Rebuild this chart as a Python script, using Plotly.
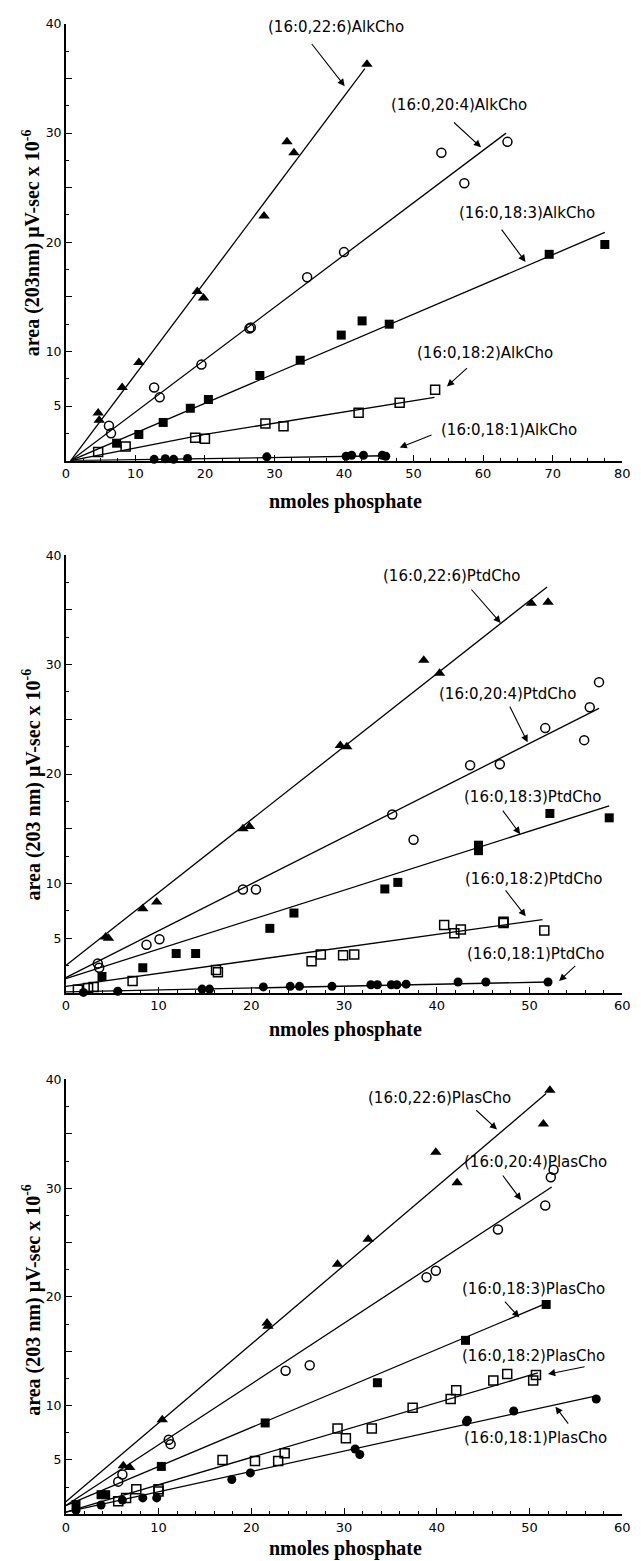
import plotly.graph_objects as go

# ---------------- DATA ----------------
# Panel 1: AlkCho
alk_226_x = [4.65, 4.8, 8.1, 10.5, 18.9, 19.8, 28.5, 31.8, 32.8, 43.3]
alk_226_y = [4.36, 3.7, 6.7, 9.0, 15.5, 14.9, 22.4, 29.2, 28.2, 36.3]
alk_204_x = [6.2, 6.5, 12.7, 13.5, 19.5, 26.4, 26.6, 34.7, 40.0, 54.0, 57.3, 63.5]
alk_204_y = [3.2, 2.5, 6.7, 5.8, 8.8, 12.1, 12.2, 16.8, 19.1, 28.2, 25.4, 29.2]
alk_183_x = [7.3, 10.5, 14.0, 17.9, 20.5, 27.9, 33.7, 39.6, 42.6, 46.5, 69.5, 77.5]
alk_183_y = [1.6, 2.4, 3.5, 4.8, 5.6, 7.8, 9.2, 11.5, 12.8, 12.5, 18.9, 19.8]
alk_182_x = [4.65, 8.6, 18.6, 20.0, 28.7, 31.3, 42.1, 48.0, 53.1]
alk_182_y = [0.8, 1.3, 2.1, 2.0, 3.4, 3.15, 4.4, 5.3, 6.5]
alk_181_x = [12.7, 14.3, 15.5, 17.5, 28.9, 40.3, 41.1, 42.8, 45.5, 46.0]
alk_181_y = [0.12, 0.18, 0.12, 0.2, 0.35, 0.4, 0.5, 0.5, 0.5, 0.4]
alk_fit_226_x = [0.7, 43.0]
alk_fit_226_y = [0.0, 35.9]
alk_fit_204_x = [0.7, 63.3]
alk_fit_204_y = [0.0, 30.0]
alk_fit_183_x = [0.7, 77.5]
alk_fit_183_y = [0.0, 20.9]
alk_fit_182_x = [0.7, 20.0, 53.0]
alk_fit_182_y = [0.0, 2.4, 5.8]
alk_fit_181_x = [0.7, 46.0]
alk_fit_181_y = [0.0, 0.45]

# Panel 2: PtdCho
ptd_226_x = [4.3, 4.6, 8.3, 9.8, 19.1, 19.8, 29.6, 30.3, 38.6, 40.3, 50.2, 52.0]
ptd_226_y = [5.1, 5.0, 7.7, 8.3, 15.0, 15.2, 22.6, 22.5, 30.4, 29.2, 35.6, 35.7]
ptd_204_x = [3.45, 3.6, 8.7, 10.1, 19.1, 20.5, 35.2, 37.5, 43.6, 46.8, 51.7, 55.9, 56.5, 57.5]
ptd_204_y = [2.7, 2.3, 4.4, 4.9, 9.45, 9.45, 16.3, 14.0, 20.8, 20.9, 24.2, 23.1, 26.1, 28.4]
ptd_183_x = [3.9, 8.3, 11.9, 14.0, 22.0, 24.6, 34.4, 35.8, 44.5, 44.5, 52.2, 58.6]
ptd_183_y = [1.5, 2.3, 3.6, 3.6, 5.9, 7.3, 9.5, 10.1, 13.5, 13.0, 16.4, 16.0]
ptd_182_x = [1.3, 2.4, 3.0, 7.2, 16.2, 16.4, 26.5, 27.5, 29.9, 31.1, 40.8, 41.9, 42.6, 47.2, 47.2, 51.6]
ptd_182_y = [0.3, 0.45, 0.55, 1.1, 2.1, 1.9, 2.9, 3.5, 3.45, 3.5, 6.2, 5.45, 5.8, 6.5, 6.4, 5.7]
ptd_181_x = [1.9, 5.6, 14.7, 15.5, 21.3, 24.2, 25.2, 28.7, 32.9, 33.6, 35.1, 35.7, 36.7, 42.3, 45.3, 52.0]
ptd_181_y = [0.05, 0.15, 0.35, 0.35, 0.55, 0.6, 0.6, 0.6, 0.75, 0.75, 0.75, 0.75, 0.8, 1.0, 1.0, 1.0]
ptd_fit_226_x = [0.0, 51.9]
ptd_fit_226_y = [2.5, 37.1]
ptd_fit_204_x = [0.0, 57.5]
ptd_fit_204_y = [1.4, 26.0]
ptd_fit_183_x = [0.0, 58.6]
ptd_fit_183_y = [1.3, 17.1]
ptd_fit_182_x = [0.0, 51.4]
ptd_fit_182_y = [0.6, 6.7]
ptd_fit_181_x = [0.0, 52.0]
ptd_fit_181_y = [0.1, 1.0]

# Panel 3: PlasCho
plas_226_x = [6.2, 6.9, 10.4, 21.7, 21.8, 29.3, 32.6, 39.9, 42.2, 51.5, 52.2]
plas_226_y = [4.45, 4.3, 8.7, 17.6, 17.3, 23.0, 25.3, 33.3, 30.5, 35.9, 39.0]
plas_204_x = [5.65, 6.1, 11.1, 11.3, 23.7, 26.3, 38.9, 39.9, 46.6, 51.7, 52.3, 52.6]
plas_204_y = [3.0, 3.65, 6.85, 6.45, 13.2, 13.7, 21.8, 22.4, 26.2, 28.4, 31.0, 31.7]
plas_183_x = [1.1, 3.8, 4.3, 10.3, 21.5, 33.6, 43.1, 51.8]
plas_183_y = [0.9, 1.8, 1.8, 4.4, 8.4, 12.1, 16.0, 19.3]
plas_182_x = [5.65, 6.5, 7.6, 10.0, 10.0, 16.9, 20.4, 22.9, 23.6, 29.3, 30.2, 33.0, 37.4, 41.5, 42.1, 46.1, 47.6, 50.4, 50.7]
plas_182_y = [1.2, 1.5, 2.3, 2.3, 2.1, 5.0, 4.9, 4.9, 5.6, 7.9, 7.0, 7.9, 9.8, 10.6, 11.4, 12.3, 12.9, 12.3, 12.8]
plas_181_x = [1.1, 3.8, 6.1, 8.3, 9.8, 17.9, 19.9, 31.2, 31.7, 43.3, 43.2, 48.3, 57.2]
plas_181_y = [0.35, 0.85, 1.3, 1.5, 1.5, 3.2, 3.8, 6.0, 5.5, 8.65, 8.5, 9.5, 10.6]
plas_fit_226_x = [0.0, 51.8]
plas_fit_226_y = [1.15, 38.7]
plas_fit_204_x = [0.0, 52.4]
plas_fit_204_y = [0.8, 30.1]
plas_fit_183_x = [0.0, 51.8]
plas_fit_183_y = [0.8, 19.4]
plas_fit_182_x = [0.0, 50.9]
plas_fit_182_y = [0.2, 13.0]
plas_fit_181_x = [0.0, 57.2]
plas_fit_181_y = [0.2, 10.9]

series_names = ["(16:0,22:6)", "(16:0,20:4)", "(16:0,18:3)", "(16:0,18:2)", "(16:0,18:1)"]
class_names = ["AlkCho", "PtdCho", "PlasCho"]
y_tick_labels = ["", "5", "10", "", "20", "", "30", "", "40"]
y_tick_vals = [0, 5, 10, 15, 20, 25, 30, 35, 40]
x_max = [80, 60, 60]

panels = [
    [(alk_226_x, alk_226_y, alk_fit_226_x, alk_fit_226_y),
     (alk_204_x, alk_204_y, alk_fit_204_x, alk_fit_204_y),
     (alk_183_x, alk_183_y, alk_fit_183_x, alk_fit_183_y),
     (alk_182_x, alk_182_y, alk_fit_182_x, alk_fit_182_y),
     (alk_181_x, alk_181_y, alk_fit_181_x, alk_fit_181_y)],
    [(ptd_226_x, ptd_226_y, ptd_fit_226_x, ptd_fit_226_y),
     (ptd_204_x, ptd_204_y, ptd_fit_204_x, ptd_fit_204_y),
     (ptd_183_x, ptd_183_y, ptd_fit_183_x, ptd_fit_183_y),
     (ptd_182_x, ptd_182_y, ptd_fit_182_x, ptd_fit_182_y),
     (ptd_181_x, ptd_181_y, ptd_fit_181_x, ptd_fit_181_y)],
    [(plas_226_x, plas_226_y, plas_fit_226_x, plas_fit_226_y),
     (plas_204_x, plas_204_y, plas_fit_204_x, plas_fit_204_y),
     (plas_183_x, plas_183_y, plas_fit_183_x, plas_fit_183_y),
     (plas_182_x, plas_182_y, plas_fit_182_x, plas_fit_182_y),
     (plas_181_x, plas_181_y, plas_fit_181_x, plas_fit_181_y)],
]

# ---------------- LAYOUT / STYLE ----------------
W, H = 641, 1561
symbols = ["triangle-up", "circle-open", "square", "square-open", "circle"]
sizes = [10, 9, 9, 9, 9]

# label placements in data coords: (text_x, text_y, tail_x, tail_y, head_x, head_y)
label_pos = [
    [(38.9, 39.7, 35.2, 38.3, 40.1, 34.3),
     (56.5, 32.6, 55.6, 31.1, 59.7, 28.7),
     (66.3, 22.7, 62.5, 21.3, 66.1, 18.2),
     (60.3, 9.9, 57.9, 8.6, 54.8, 6.8),
     (63.7, 2.8, 52.8, 2.4, 48.0, 1.2)],
    [(41.6, 38.1, 43.6, 37.0, 46.9, 33.8),
     (47.6, 27.3, 47.8, 26.3, 49.8, 22.9),
     (50.3, 17.9, 47.0, 16.8, 49.0, 14.5),
     (50.4, 10.45, 47.3, 9.5, 49.6, 7.0),
     (50.7, 3.6, 55.1, 2.6, 53.2, 1.1)],
    [(40.3, 38.3, 44.1, 37.3, 46.5, 35.4),
     (50.7, 32.4, 47.0, 31.3, 49.1, 28.9),
     (50.4, 20.7, 47.2, 19.7, 48.9, 18.1),
     (50.4, 14.6, 56.1, 13.6, 52.0, 12.9),
     (50.7, 7.0, 54.3, 8.2, 52.8, 9.9)],
]

# pixel geometry of each panel: (y_px of 0, y_px of 40)
panel_px = [(455, 16), (990, 550), (1514, 1077)]
x_px = (63, 630)
ytitle_y_px = [236, 780, 1298]
xtitle_y_px = [496, 1027, 1548]
minor_dx = [2.5, 2, 2]
ytitles = ["<b>area (203nm) \u03bcV-sec x 10<sup>-6</sup></b>",
           "<b>area (203 nm) \u03bcV-sec x 10<sup>-6</sup></b>",
           "<b>area (203 nm) \u03bcV-sec x 10<sup>-6</sup></b>"]

fig = go.Figure()
annotations = []
layout_axes = {}

for p in range(3):
    sfx = "" if p == 0 else str(p + 1)
    xa, ya = "x" + sfx, "y" + sfx
    for s in range(5):
        px_, py_, fx, fy = panels[p][s]
        fig.add_trace(go.Scatter(x=fx, y=fy, mode="lines", xaxis=xa, yaxis=ya,
                                 line=dict(color="black", width=1.3),
                                 showlegend=False, hoverinfo="skip", cliponaxis=False))
        mk = dict(symbol=symbols[s], size=sizes[s], color="black")
        if "open" in symbols[s]:
            mk["line"] = dict(color="black", width=1.5)
        fig.add_trace(go.Scatter(x=px_, y=py_, mode="markers", xaxis=xa, yaxis=ya,
                                 marker=mk, showlegend=False, cliponaxis=False))
        tx, ty, ax_, ay_, hx, hy = label_pos[p][s]
        annotations.append(dict(x=tx, y=ty, xref=xa, yref=ya, text=series_names[s] + class_names[p],
                                showarrow=False, font=dict(family="DejaVu Sans", size=15, color="black"),
                                xanchor="center", yanchor="middle"))
        annotations.append(dict(x=hx, y=hy, ax=ax_, ay=ay_, xref=xa, yref=ya, axref=xa, ayref=ya,
                                text="", showarrow=True, arrowhead=2, arrowsize=1.3, arrowwidth=1.1,
                                arrowcolor="black", standoff=0, startstandoff=0))

    y0, y40 = panel_px[p]
    ydom = [1 - y0 / H, 1 - y40 / H]
    xdom = [x_px[0] / W, x_px[1] / W]
    layout_axes["xaxis" + sfx] = dict(
        domain=xdom, range=[0, x_max[p]], anchor=ya, showline=True, linecolor="black", linewidth=1.5,
        showgrid=False, zeroline=False, ticks="inside", ticklen=6, tickwidth=1.3, tickcolor="black",
        tickmode="linear", tick0=0, dtick=10,
        tickfont=dict(family="DejaVu Sans", size=13, color="black"),
        minor=dict(ticks="inside", ticklen=3, tickwidth=1, tickcolor="black", tickmode="linear",
                   tick0=0, dtick=minor_dx[p]),
    )
    layout_axes["yaxis" + sfx] = dict(
        domain=ydom, range=[0, 40], anchor=xa, showline=True, linecolor="black", linewidth=1.5,
        showgrid=False, zeroline=False, ticks="inside", ticklen=6, tickwidth=1.3, tickcolor="black",
        tickmode="array", tickvals=y_tick_vals, ticktext=y_tick_labels,
        tickfont=dict(family="DejaVu Sans", size=12.5, color="black"),
        minor=dict(ticks="inside", ticklen=3, tickwidth=1, tickcolor="black", tickmode="linear",
                   tick0=0, dtick=2.5),
    )
    annotations.append(dict(x=28 / W, y=1 - ytitle_y_px[p] / H, xref="paper", yref="paper",
                            text=ytitles[p], textangle=-90, showarrow=False,
                            font=dict(family="Liberation Serif", size=20, color="black"),
                            xanchor="center", yanchor="middle"))
    annotations.append(dict(x=348 / W, y=1 - xtitle_y_px[p] / H, xref="paper", yref="paper",
                            text="<b>nmoles phosphate</b>", showarrow=False,
                            font=dict(family="Liberation Serif", size=20, color="black"),
                            xanchor="center", yanchor="middle"))

fig.update_layout(width=W, height=H, margin=dict(l=0, r=0, t=0, b=0),
                  paper_bgcolor="white", plot_bgcolor="white",
                  annotations=annotations, showlegend=False, **layout_axes)

fig.write_html("out.html", config={"displayModeBar": False},
               post_script="document.body.style.margin='0';document.body.style.overflow='hidden';")
